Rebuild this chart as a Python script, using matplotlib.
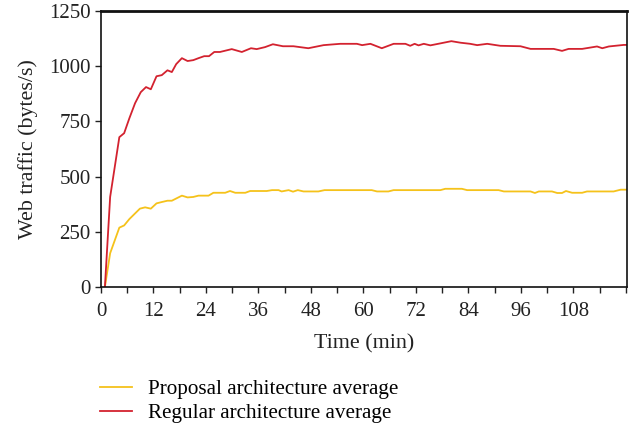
import matplotlib
matplotlib.use("Agg")
import matplotlib.pyplot as plt
from matplotlib.ticker import MultipleLocator

plt.rcParams['font.family'] = ['Liberation Serif', 'DejaVu Serif']

# regular architecture (red), time in min / bytes per s
reg_t = [0.9, 2.1, 4.2, 5.3, 6.5, 7.8, 9.1, 10.3, 11.4, 12.7, 13.9, 15.2, 16.2, 17.2,
         18.5, 19.8, 21.1, 22.3, 23.6, 24.7, 25.9, 27.2, 29.9, 32.2, 34.3, 35.6, 37.5,
         39.3, 41.6, 44.0, 47.4, 50.9, 54.7, 58.5, 59.7, 61.6, 64.2, 66.9, 69.6, 70.7,
         71.7, 72.6, 73.8, 75.3, 77.6, 80.1, 82.2, 84.4, 86.0, 88.3, 91.3, 95.9, 98.2,
         103.5, 105.4, 106.9, 110.0, 113.4, 114.6, 116.1, 119.5, 120.3]
reg_v = [0, 408, 679, 697, 765, 833, 883, 906, 896, 955, 960, 982, 974, 1010,
         1037, 1024, 1028, 1037, 1046, 1046, 1065, 1065, 1078, 1065, 1082, 1078, 1087,
         1100, 1091, 1091, 1082, 1096, 1102, 1102, 1096, 1102, 1082, 1102, 1102, 1093,
         1102, 1095, 1102, 1095, 1104, 1114, 1107, 1102, 1096, 1102, 1093, 1091, 1079,
         1079, 1070, 1079, 1079, 1090, 1082, 1090, 1097, 1097]

# proposal architecture (yellow)
prop_t = [0.9, 2.1, 4.2, 5.3, 6.5, 8.9, 10.1, 11.4, 12.7, 13.9, 15.2, 16.2, 18.5,
          19.8, 21.1, 22.3, 24.6, 25.7, 28.4, 29.5, 30.7, 33.0, 34.1, 37.9, 39.1,
          40.6, 41.3, 42.9, 43.9, 45.0, 46.3, 49.7, 51.1, 61.9, 63.1, 65.7, 66.9,
          77.6, 78.7, 82.5, 83.7, 90.9, 92.1, 98.2, 99.2, 100.1, 103.1, 104.3, 105.4,
          106.3, 107.7, 110.0, 111.1, 117.2, 118.8, 120.3]
prop_v = [0, 153, 269, 279, 308, 355, 361, 355, 379, 385, 391, 391, 414,
          406, 408, 414, 414, 427, 427, 435, 427, 427, 435, 435, 439,
          439, 433, 439, 432, 439, 433, 433, 439, 439, 433, 433, 439,
          439, 445, 445, 439, 439, 433, 433, 426, 433, 433, 426, 426,
          435, 427, 427, 433, 433, 441, 441]

fig = plt.figure(figsize=(6.31, 4.29), dpi=100)
ax = fig.add_axes([0.160, 0.331, 0.834, 0.643])

ax.plot(prop_t, prop_v, color="#F5C21B", lw=1.3, label="Proposal architecture average")
ax.plot(reg_t, reg_v, color="#D3222F", lw=1.3, label="Regular architecture average")

ax.set_xlim(0, 120.3)
ax.set_ylim(0, 1250)
ax.xaxis.set_minor_locator(MultipleLocator(6))
ax.yaxis.set_major_locator(MultipleLocator(250))
ax.set_xticks(range(0, 109, 12))
ax.tick_params(axis="both", which="both", direction="out", length=4, width=1,
               labelsize=15, colors="#222222")
ax.tick_params(axis="x", pad=7)
for s in ax.spines.values():
    s.set_linewidth(1.2)
    s.set_color("#111111")
ax.spines["top"].set_linewidth(2)

ax.set_xlabel("Time (min)", fontsize=15.8, color="#222222", labelpad=9)
ax.set_ylabel("Web traffic (bytes/s)", fontsize=15.8, color="#222222", labelpad=8)

fig.legend(loc="upper left", bbox_to_anchor=(0.145, 0.135), frameon=False,
           fontsize=15.2, handlelength=1.5, handletextpad=0.8, labelspacing=0.2,
           borderaxespad=0)

fig.savefig("out.png", dpi=100)
